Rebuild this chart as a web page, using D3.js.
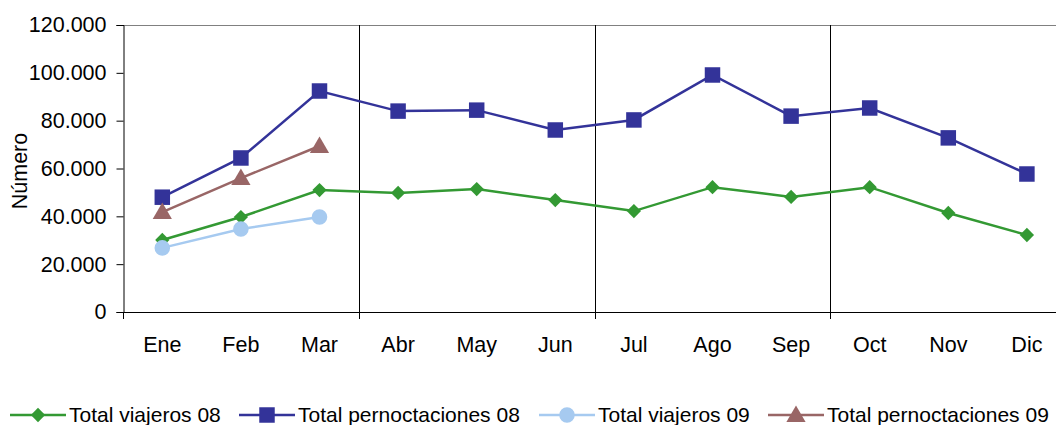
<!DOCTYPE html>
<html>
<head>
<meta charset="utf-8">
<script src="https://d3js.org/d3.v7.min.js"></script>
<style>
  body { margin: 0; background: #fff; }
  svg { display: block; font-family: "Liberation Sans", Arial, sans-serif; }
</style>
</head>
<body>
<div id="chart"></div>
<script>
const months = ["Ene","Feb","Mar","Abr","May","Jun","Jul","Ago","Sep","Oct","Nov","Dic"];
const viajeros08 = [30100, 39700, 51000, 49800, 51400, 46800, 42200, 52200, 48100, 52200, 41400, 32200];
const pernoct08 = [48000, 64400, 92400, 84000, 84400, 76100, 80300, 99100, 81900, 85300, 72800, 57700];
const viajeros09 = [26800, 34700, 39700];
const pernoct09 = [41800, 56000, 69400];
const yTicks = [0, 20000, 40000, 60000, 80000, 100000, 120000];

const series = [
  {name: "Total viajeros 08", values: viajeros08, color: "#339933", shape: "diamond"},
  {name: "Total pernoctaciones 08", values: pernoct08, color: "#333399", shape: "square"},
  {name: "Total viajeros 09", values: viajeros09, color: "#a6caf0", shape: "circle"},
  {name: "Total pernoctaciones 09", values: pernoct09, color: "#996666", shape: "triangle"}
];

const width = 1056, height = 425;
const plotLeft = 123, plotTop = 25, plotBottom = 312;
const band = 78.6;
const plotRight = plotLeft + band * 12;

const svg = d3.select("#chart").append("svg")
  .attr("width", width)
  .attr("height", height);

const x = d3.scaleBand().domain(months).range([plotLeft, plotRight]);
const y = d3.scaleLinear().domain([0, 120000]).range([plotBottom, plotTop]);

const fmt = v => d3.format(",")(v).replace(/,/g, ".");

// frame
svg.append("line").attr("x1", plotLeft).attr("x2", plotRight).attr("y1", plotTop + 0.5).attr("y2", plotTop + 0.5)
  .attr("stroke", "#808080").attr("stroke-width", 1);

// quarter gridlines
[3, 6, 9].forEach(i => {
  const xv = Math.round(x(months[i])) + 0.5;
  svg.append("line").attr("x1", xv).attr("x2", xv).attr("y1", plotTop).attr("y2", plotBottom + 7)
    .attr("stroke", "#000").attr("stroke-width", 1);
});

// y axis
const yAxis = svg.append("g").attr("transform", `translate(${plotLeft + 0.5},0)`)
  .call(d3.axisLeft(y).tickValues(yTicks).tickFormat(fmt).tickSize(7).tickPadding(10));
yAxis.select(".domain").attr("stroke", "#000");
yAxis.selectAll("text").attr("font-size", 21.5).attr("fill", "#000")
  .attr("font-family", "Liberation Sans, Arial, sans-serif");

// bottom axis line
svg.append("line").attr("x1", plotLeft).attr("x2", plotRight).attr("y1", plotBottom + 0.5).attr("y2", plotBottom + 0.5)
  .attr("stroke", "#000");
svg.append("line").attr("x1", plotLeft + 0.5).attr("x2", plotLeft + 0.5).attr("y1", plotBottom).attr("y2", plotBottom + 7)
  .attr("stroke", "#000");

// x labels
svg.selectAll("text.xl").data(months).enter().append("text")
  .attr("class", "xl")
  .attr("x", d => x(d) + x.bandwidth() / 2)
  .attr("y", 352)
  .attr("text-anchor", "middle")
  .attr("font-size", 21.5)
  .text(d => d);

// y title
svg.append("text")
  .attr("transform", "translate(27,171) rotate(-90)")
  .attr("text-anchor", "middle")
  .attr("font-size", 21.5)
  .text("Número");

function symbolFor(shape) {
  if (shape === "diamond") return d3.symbol().type(d3.symbolDiamond2).size(130);
  if (shape === "square") return d3.symbol().type(d3.symbolSquare).size(240);
  if (shape === "circle") return d3.symbol().type(d3.symbolCircle).size(190);
  return d3.symbol().type(d3.symbolTriangle).size(160);
}

const line = d3.line()
  .x((d, i) => x(months[i]) + x.bandwidth() / 2)
  .y(d => y(d));

series.forEach(s => {
  svg.append("path").datum(s.values)
    .attr("d", line)
    .attr("fill", "none")
    .attr("stroke", s.color)
    .attr("stroke-width", 2.5);
  svg.selectAll(null).data(s.values).enter().append("path")
    .attr("d", symbolFor(s.shape))
    .attr("transform", (d, i) => `translate(${x(months[i]) + x.bandwidth() / 2},${y(d) + (s.shape === "triangle" ? 1.5 : 0)})`)
    .attr("fill", s.color);
});

// legend
const legendX = [10, 239, 539, 768];
const ly = 415;
series.forEach((s, i) => {
  const g = svg.append("g").attr("transform", `translate(${legendX[i]},${ly})`);
  g.append("line").attr("x1", 0).attr("x2", 56).attr("y1", 0).attr("y2", 0)
    .attr("stroke", s.color).attr("stroke-width", 2.5);
  g.append("path").attr("d", symbolFor(s.shape))
    .attr("transform", `translate(28,${s.shape === "triangle" ? 1.5 : 0})`)
    .attr("fill", s.color);
  g.append("text").attr("x", 59).attr("y", 7).attr("font-size", 21).text(s.name);
});
</script>
</body>
</html>
